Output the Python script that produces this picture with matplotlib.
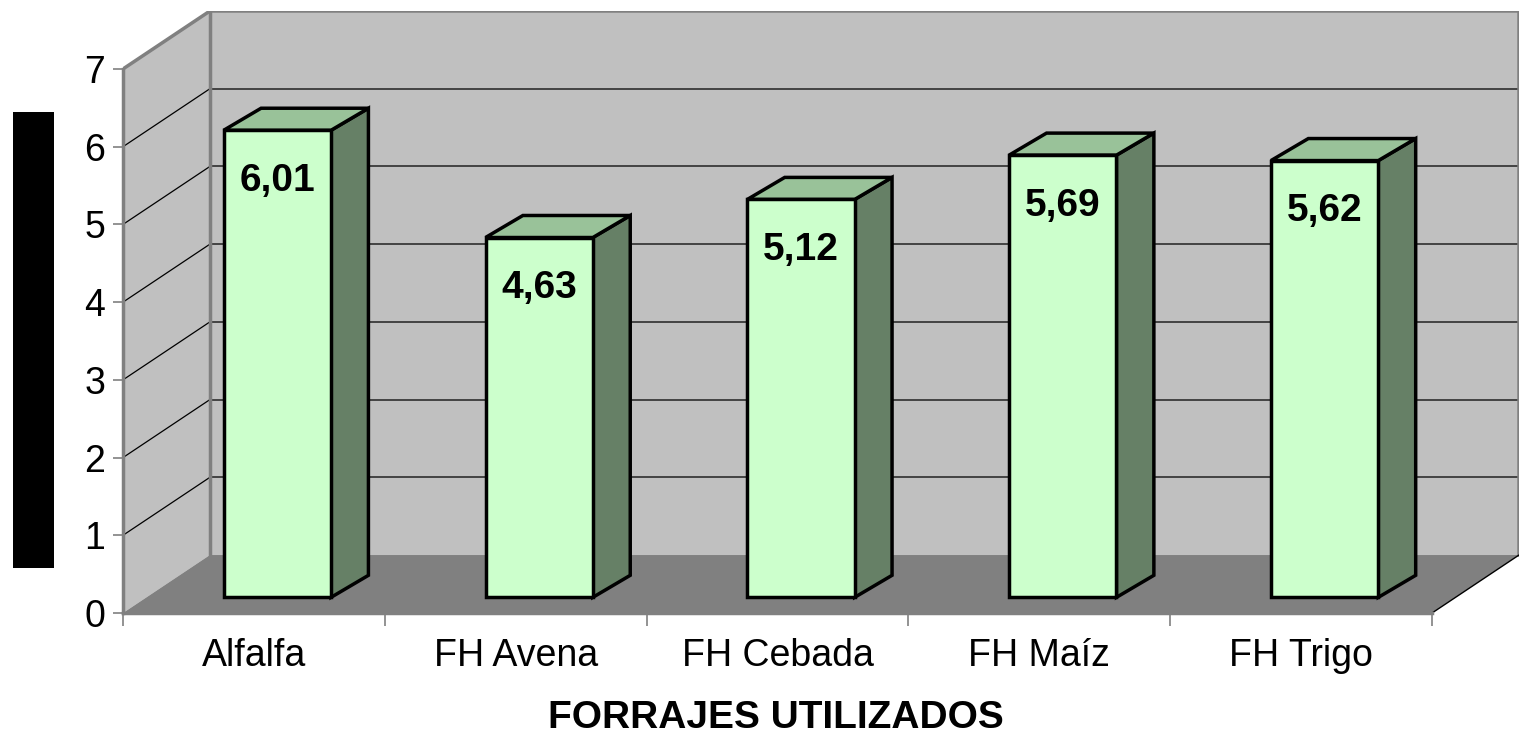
import numpy as np
import matplotlib.pyplot as plt
from matplotlib.patches import Polygon, Rectangle

plt.rcParams['font.family'] = ['Liberation Sans', 'DejaVu Sans']

categories = ['Alfalfa', 'FH Avena', 'FH Cebada', 'FH Maíz', 'FH Trigo']
values = [6.01, 4.63, 5.12, 5.69, 5.62]
labels = ['6,01', '4,63', '5,12', '5,69', '5,62']
y_ticks = [0, 1, 2, 3, 4, 5, 6, 7]

# 3D look: depth offset of the back wall in data units
D, Dy = 0.332, 0.746
z0 = 0.27                # bar start depth (fraction of full depth)
dzx, dzy = 0.43, 0.38    # bar thickness as seen on the side / top
w = 0.41                 # bar width
n = len(categories)
ymax = y_ticks[-1]

fig = plt.figure(figsize=(15.2, 7.4), dpi=100)
ax = fig.add_axes([123/1520, 127/740, 1396/1520, 602/740])
ax.set_xlim(0, n + D)
ax.set_ylim(0, ymax + Dy)
ax.patch.set_alpha(0)

wall = '#C0C0C0'
edge = '#808080'

# walls and floor
ax.add_patch(Polygon([(0, 0), (0, ymax), (D, ymax + Dy), (D, Dy)], closed=True,
                     fc=wall, ec='none', zorder=1))
ax.add_patch(Polygon([(D, Dy), (D, ymax + Dy), (n + D, ymax + Dy), (n + D, Dy)],
                     closed=True, fc=wall, ec='none', zorder=1))
ax.add_patch(Polygon([(0, 0), (n, 0), (n + D, Dy), (D, Dy)], closed=True,
                     fc='#808080', ec='none', zorder=1))

# gridlines: back wall + diagonals on the left wall
for k in y_ticks[1:-1]:
    ax.plot([D, n + D], [k + Dy, k + Dy], color='#222222', lw=1.1, zorder=2)
    ax.plot([0, D], [k, k + Dy], color='black', lw=0.9, zorder=2)

# wall edges
ax.plot([0, D, n + D, n + D], [ymax, ymax + Dy, ymax + Dy, Dy], color=edge, lw=2.5, zorder=2)
ax.plot([D, D], [Dy, ymax + Dy], color=edge, lw=2.5, zorder=2)
ax.plot([n, n + D], [0, Dy], color='black', lw=1, zorder=2)

# bars
for i, v in enumerate(values):
    x0 = i + 0.5 - w / 2 + z0 * D
    y0 = z0 * Dy
    ddx, ddy = dzx * D, dzy * Dy
    kw = dict(ec='black', lw=2.5, joinstyle='miter', zorder=3)
    ax.add_patch(Polygon([(x0 + w, y0), (x0 + w + ddx, y0 + ddy),
                          (x0 + w + ddx, y0 + v + ddy), (x0 + w, y0 + v)],
                         closed=True, fc='#668066', **kw))
    ax.add_patch(Polygon([(x0, y0 + v), (x0 + w, y0 + v),
                          (x0 + w + ddx, y0 + v + ddy), (x0 + ddx, y0 + v + ddy)],
                         closed=True, fc='#99C299', **kw))
    ax.add_patch(Rectangle((x0, y0), w, v, fc='#CCFFCC', **kw))
    ax.text(x0 + w / 2, y0 + v - 0.65, labels[i], ha='center', va='center',
            fontsize=28, fontweight='bold', zorder=4)

# axes
for s in ['top', 'right']:
    ax.spines[s].set_visible(False)
ax.spines['left'].set_bounds(0, ymax)
ax.spines['bottom'].set_bounds(0, n)
for s in ['left', 'bottom']:
    ax.spines[s].set_color(edge)
    ax.spines[s].set_linewidth(2.5)
    ax.spines[s].set_zorder(2)

ax.set_yticks(y_ticks)
ax.tick_params(axis='y', length=7, width=1.2, color=edge, labelsize=27, pad=6)
ax.set_xticks(np.arange(n + 1))
ax.set_xticklabels([])
ax.set_xticks(np.arange(n) + 0.5, minor=True)
ax.set_xticklabels(categories, minor=True)
ax.tick_params(axis='x', which='major', length=9, width=1.2, color=edge)
ax.tick_params(axis='x', which='minor', length=0, labelsize=27, pad=18)

fig.text(776/1520, 1 - 718/740, 'FORRAJES UTILIZADOS', ha='center', va='center',
         fontsize=28, fontweight='bold')

# hidden y-axis title (black box in the original)
fig.patches.append(Rectangle((13/1520, 1 - 568/740), 41/1520, 456/740,
                             transform=fig.transFigure, fc='black', ec='none'))

plt.savefig('out.png', dpi=100)
